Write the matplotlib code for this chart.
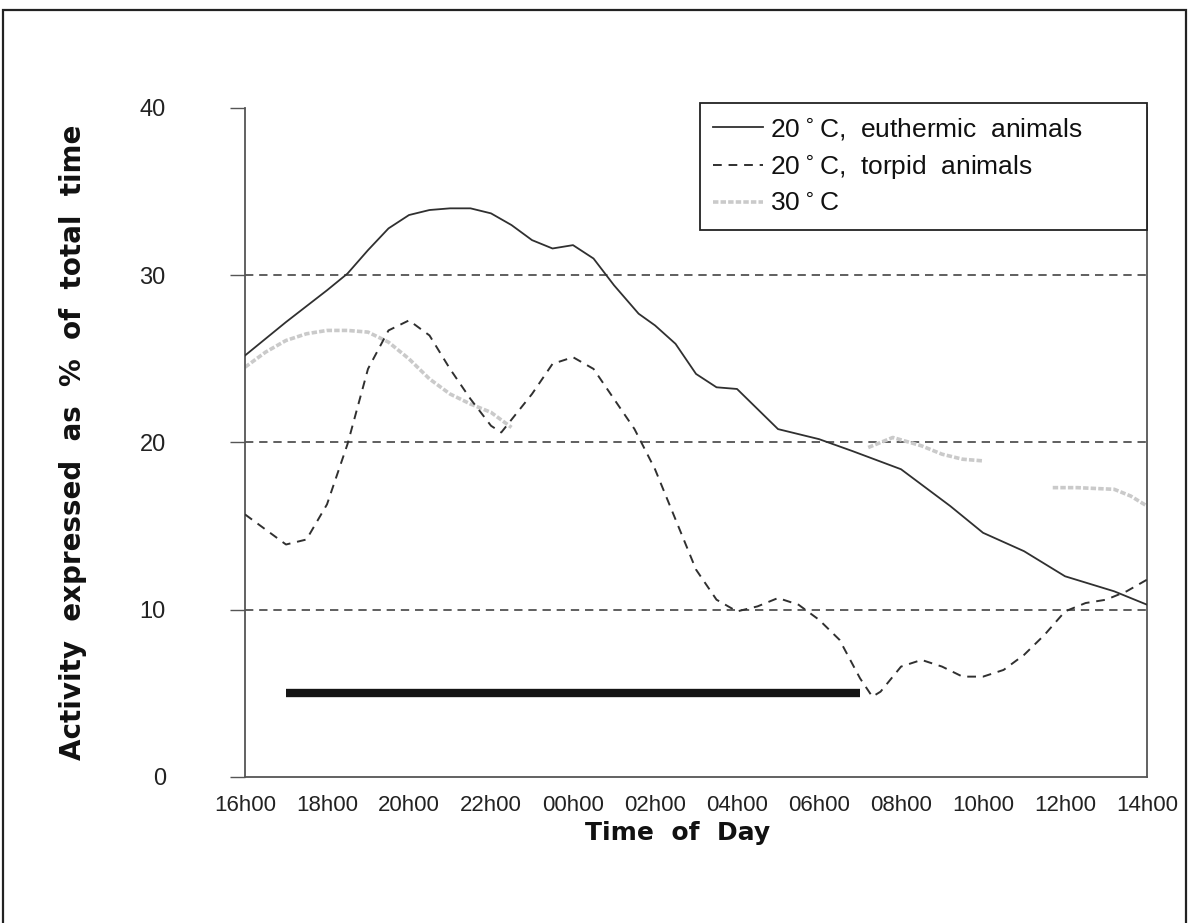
#!/usr/bin/env python3
"""Daily activity of euthermic / torpid animals at 20 C and animals at 30 C."""

import numpy as np
import matplotlib
matplotlib.use("Agg")
import matplotlib.pyplot as plt
from matplotlib.patches import Rectangle

# hours after 16h00
HOURS_EUTH = [0, 1, 2, 2.5, 3, 3.5, 4, 4.5, 5, 5.5, 6, 6.5, 7, 7.5, 8, 8.5, 9, 9.6,
              10, 10.5, 11, 11.5, 12, 12.5, 13, 14, 14.8, 16, 17.2, 18, 19, 20,
              21.2, 22]
EUTHERMIC = [25.2, 27.2, 29.1, 30.1, 31.5, 32.8, 33.6, 33.9, 34.0, 34.0, 33.7,
             33.0, 32.1, 31.6, 31.8, 31.0, 29.4, 27.7, 27.0, 25.9, 24.1, 23.3,
             23.2, 22.0, 20.8, 20.2, 19.5, 18.4, 16.2, 14.6, 13.5, 12.0, 11.1,
             10.3]

HOURS_TORP = [0, 0.5, 1, 1.5, 2, 2.5, 3, 3.5, 4, 4.5, 5, 5.5, 6, 6.25, 7, 7.5, 8,
              8.5, 9, 9.5, 10, 10.5, 11, 11.5, 12, 12.5, 13, 13.5, 14, 14.5, 15,
              15.3, 15.5, 16, 16.5, 17, 17.5, 18, 18.5, 19, 19.5, 20, 20.5, 21,
              21.5, 22]
TORPID = [15.7, 14.8, 13.9, 14.2, 16.3, 19.9, 24.4, 26.7, 27.3, 26.4, 24.4, 22.6,
          21.0, 20.6, 22.9, 24.7, 25.1, 24.4, 22.6, 20.8, 18.4, 15.4, 12.4, 10.6,
          9.9, 10.2, 10.7, 10.3, 9.4, 8.2, 5.9, 4.8, 5.1, 6.6, 7.0, 6.6, 6.0, 6.0,
          6.4, 7.3, 8.5, 9.9, 10.4, 10.6, 11.1, 11.8]

# 30 C trace is only partly legible in the figure (gaps = nan)
HOURS_30 = [0, 0.5, 1, 1.5, 2, 2.5, 3, 3.5, 4, 4.5, 5, 5.5, 6, 6.5, 10,
            15.2, 15.8, 16.5, 17, 17.5, 18, 19, 19.7, 20.3, 21.2, 21.6, 22]
WARM = [24.5, 25.4, 26.1, 26.5, 26.7, 26.7, 26.6, 26.0, 25.0, 23.8, 22.9, 22.3,
        21.8, 20.9, np.nan, 19.7, 20.3, 19.8, 19.3, 19.0, 18.9, np.nan, 17.3,
        17.3, 17.2, 16.8, 16.2]

TICK_LABELS = ["16h00", "18h00", "20h00", "22h00", "00h00", "02h00", "04h00",
               "06h00", "08h00", "10h00", "12h00", "14h00"]
TICK_HOURS = [0, 2, 4, 6, 8, 10, 12, 14, 16, 18, 20, 22]
GRID_LEVELS = [10, 20, 30]
DARK_HOURS = [1, 15]   # black bar, 17h00 - 07h00
DARK_LEVEL = 5

NARROW = ["Liberation Sans Narrow", "Liberation Sans", "DejaVu Sans"]


def main() -> None:
    fig = plt.figure(figsize=(11.91, 9.23), dpi=100)
    ax = fig.add_axes([0.2057, 0.1582, 0.7574, 0.7248])

    for lvl in GRID_LEVELS:
        ax.axhline(lvl, color="#444444", linewidth=1.2, linestyle=(0, (5, 3.5)),
                   zorder=1)

    ax.plot(HOURS_30, WARM, color="#cacaca", linewidth=2.6,
            linestyle=(0, (1.5, 0.6)), label="30$^\\circ$C", zorder=2)
    ax.plot(HOURS_EUTH, EUTHERMIC, color="#303030", linewidth=1.3,
            label="20$^\\circ$C,  euthermic  animals", zorder=3)
    ax.plot(HOURS_TORP, TORPID, color="#303030", linewidth=1.4,
            linestyle=(0, (4.5, 3.5)), label="20$^\\circ$C,  torpid  animals",
            zorder=3)

    ax.plot(DARK_HOURS, [DARK_LEVEL, DARK_LEVEL], color="#151515",
            linewidth=6.0, solid_capstyle="butt", zorder=4)

    ax.set_xlim(0, 22)
    ax.set_ylim(0, 40)
    ax.set_xticks(TICK_HOURS)
    ax.set_xticklabels(TICK_LABELS, family=NARROW, fontsize=16, color="#222222")
    ax.set_yticks([0, 10, 20, 30, 40])
    ax.set_yticklabels(["0", "10", "20", "30", "40"], family=NARROW,
                       fontsize=17, color="#222222")
    ax.tick_params(axis="x", length=0, pad=13)
    ax.tick_params(axis="y", length=11, width=1.0, pad=46, color="#555555")

    ax.spines["top"].set_visible(False)
    for side in ("left", "right", "bottom"):
        ax.spines[side].set_color("#555555")
        ax.spines[side].set_linewidth(1.3)

    ax.set_xlabel("Time  of  Day", fontsize=18, fontweight="bold",
                  color="#111111")
    ax.xaxis.set_label_coords(0.48, -0.066)
    ax.set_ylabel("Activity  expressed  as  %  of  total  time", fontsize=20,
                  fontweight="bold", color="#111111", labelpad=38)

    handles, labels = ax.get_legend_handles_labels()
    order = [1, 2, 0]
    leg = ax.legend([handles[i] for i in order], [labels[i] for i in order],
                    loc="upper right", bbox_to_anchor=(0.504, 0.81, 0.496, 0.1975),
                    mode="expand", prop={"family": NARROW, "size": 19},
                    frameon=True, fancybox=False, edgecolor="#222222",
                    framealpha=1.0, handlelength=1.9, handletextpad=0.25,
                    labelspacing=0.42, borderpad=0.5, borderaxespad=0.0)
    leg.get_frame().set_linewidth(1.3)
    for t in leg.get_texts():
        t.set_color("#111111")

    # outer border of the scanned figure
    fig.add_artist(Rectangle((3 / 1191, -0.01), 1183 / 1191, 0.999,
                             transform=fig.transFigure, fill=False,
                             edgecolor="#222222", linewidth=1.6))

    fig.savefig("out.png", dpi=100, facecolor="white")


if __name__ == "__main__":
    main()
